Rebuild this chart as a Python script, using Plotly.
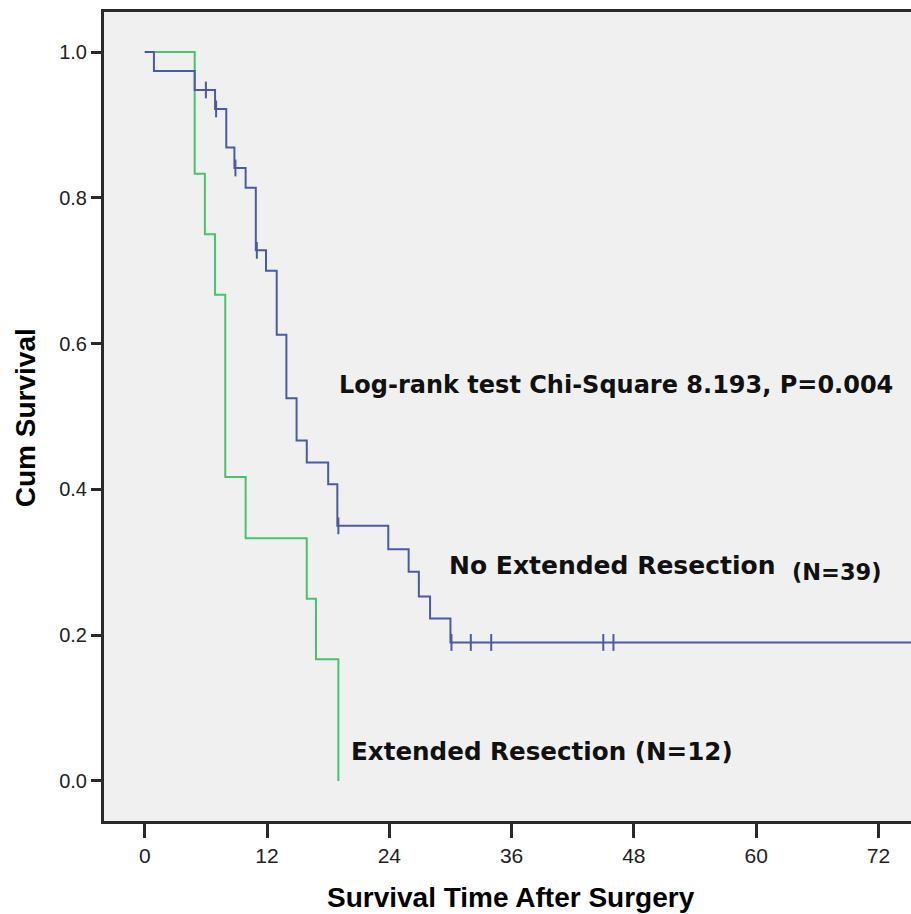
import plotly.graph_objects as go

# Kaplan-Meier step data (time in months, cumulative survival after each step)
no_ext_time = [0, 0.9, 4.9, 6.9, 8.0, 8.8, 9.9, 10.9, 11.9, 12.95, 13.9, 14.9, 15.9, 18.0, 18.9, 23.9, 25.9, 26.9, 28.0, 30.0, 80]
no_ext_surv = [1.0, 0.974, 0.948, 0.922, 0.869, 0.841, 0.814, 0.728, 0.700, 0.612, 0.525, 0.467, 0.437, 0.407, 0.350, 0.318, 0.287, 0.253, 0.223, 0.190, 0.190]
no_ext_cens_time = [6.0, 7.0, 8.9, 11.0, 19.0, 30.1, 32.0, 34.0, 45.0, 46.0]
no_ext_cens_surv = [0.948, 0.922, 0.841, 0.728, 0.350, 0.190, 0.190, 0.190, 0.190, 0.190]

ext_time = [0, 4.9, 5.9, 6.9, 7.9, 9.9, 15.9, 16.8, 19.0]
ext_surv = [1.0, 0.833, 0.750, 0.667, 0.417, 0.333, 0.250, 0.167, 0.0]

x_ticks = [0, 12, 24, 36, 48, 60, 72]
y_ticks = [0.0, 0.2, 0.4, 0.6, 0.8, 1.0]
y_tick_labels = ["0.0", "0.2", "0.4", "0.6", "0.8", "1.0"]

blue = "#4b5aa6"
green = "#45c46a"

fig = go.Figure()
fig.add_trace(go.Scatter(x=ext_time, y=ext_surv, mode="lines", line=dict(color=green, width=2, shape="hv"),
                         name="Extended Resection", showlegend=False))
fig.add_trace(go.Scatter(x=no_ext_time, y=no_ext_surv, mode="lines", line=dict(color=blue, width=2, shape="hv"),
                         name="No Extended Resection", showlegend=False))
fig.add_trace(go.Scatter(x=no_ext_cens_time, y=no_ext_cens_surv, mode="markers",
                         marker=dict(symbol="line-ns", size=12, line=dict(color=blue, width=2)),
                         showlegend=False))

def tf(size):
    return dict(family="DejaVu Sans", size=size, color="#111111")

fig.add_annotation(x=18.9, y=0.543, xref="x", yref="y", text="<b>Log-rank test Chi-Square 8.193, P=0.004</b>",
                   showarrow=False, xanchor="left", yanchor="middle", font=tf(24))
fig.add_annotation(x=29.7, y=0.296, xref="x", yref="y", text="<b>No Extended Resection</b>",
                   showarrow=False, xanchor="left", yanchor="middle", font=tf(25))
fig.add_annotation(x=63.3, y=0.287, xref="x", yref="y", text="<b>(N=39)</b>",
                   showarrow=False, xanchor="left", yanchor="middle", font=tf(22.5))
fig.add_annotation(x=20.0, y=0.040, xref="x", yref="y", text="<b>Extended Resection (N=12)</b>",
                   showarrow=False, xanchor="left", yanchor="middle", font=tf(24.6))

title_font = dict(family="Liberation Sans, Arial", size=28, color="#000000")
fig.add_annotation(x=0.504, y=-0.095, xref="paper", yref="paper", text="<b>Survival Time After Surgery</b>",
                   showarrow=False, xanchor="center", yanchor="middle", font=title_font)
fig.add_annotation(x=-0.098, y=0.499, xref="paper", yref="paper", text="<b>Cum Survival</b>", textangle=-90,
                   showarrow=False, xanchor="center", yanchor="middle", font=title_font)

fig.update_layout(
    width=911, height=914,
    margin=dict(l=104, r=0, t=12, b=93),
    paper_bgcolor="white", plot_bgcolor="#f0f0f0",
    xaxis=dict(range=[-4.0, 75.2], tickvals=x_ticks, ticktext=[str(v) for v in x_ticks],
               showgrid=False, zeroline=False, showline=True, mirror=True, linecolor="#2a2a2a", linewidth=3,
               ticks="outside", ticklen=14, tickwidth=2.5, tickcolor="#2a2a2a",
               tickfont=dict(family="Liberation Sans, Arial", size=21, color="#222222")),
    yaxis=dict(range=[-0.055, 1.055], tickvals=y_ticks, ticktext=y_tick_labels,
               showgrid=False, zeroline=False, showline=True, mirror=False, linecolor="#2a2a2a", linewidth=3,
               ticks="outside", ticklen=10, tickwidth=2.5, tickcolor="#2a2a2a",
               tickfont=dict(family="Liberation Sans, Arial", size=20, color="#222222")),
)

fig.write_html("out.html", config={"displayModeBar": False},
               post_script="document.body.style.margin='0';document.body.style.overflow='hidden';")
